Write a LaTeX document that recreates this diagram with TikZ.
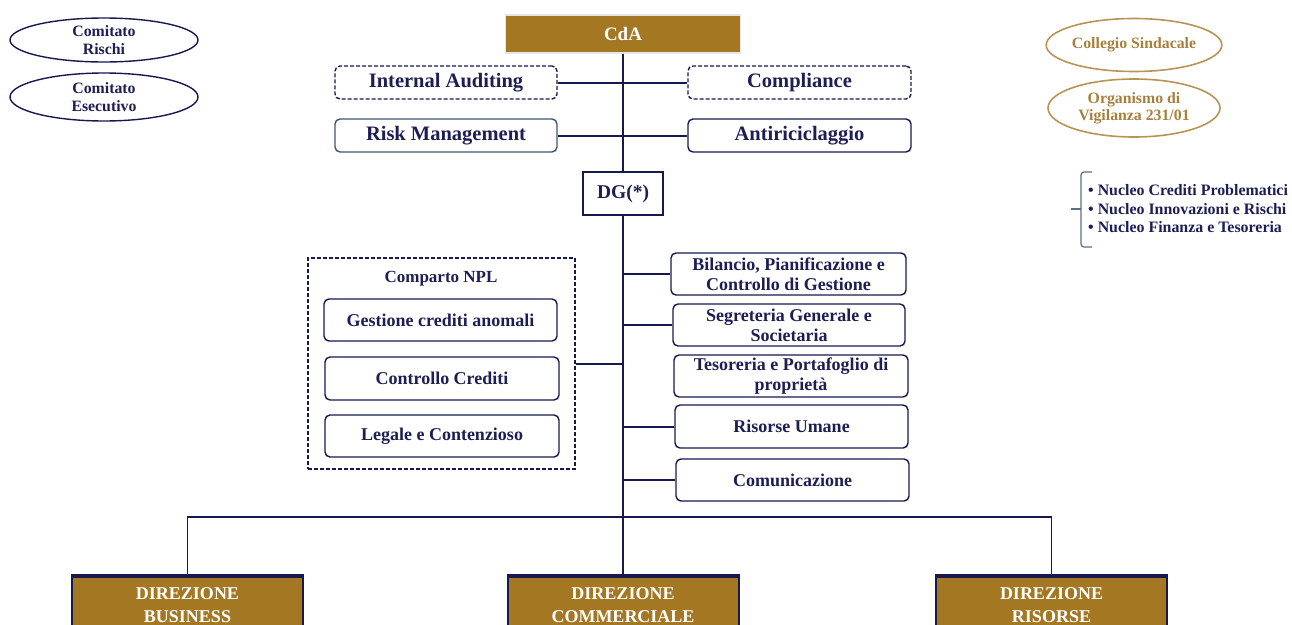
\documentclass[tikz,border=0pt]{standalone}
\usepackage{fontspec}
\setmainfont{Liberation Serif}
\usetikzlibrary{positioning,shapes.geometric,calc}

\definecolor{navy}{RGB}{22,24,80}
\definecolor{navytext}{RGB}{28,30,84}
\definecolor{steel}{RGB}{62,84,114}
\definecolor{ochre}{RGB}{164,119,35}
\definecolor{ochreline}{RGB}{184,148,84}
\definecolor{ochretext}{RGB}{166,128,60}

\newcommand{\fsz}[2]{\fontsize{#1}{#2}\selectfont\bfseries}

\begin{document}
\begin{tikzpicture}[
  x=1pt,y=-1pt,
  unit/.style={draw=navy,line width=1.4pt,rounded corners=5pt,align=center,
              text=navytext,inner sep=0pt},
  dashunit/.style={unit,dash pattern=on 4pt off 2pt},
  head/.style={fill=ochre,draw=gray!20,line width=1.5pt,text=white,inner sep=0pt,
              minimum width=235pt,minimum height=38pt,font=\fsz{19}{22}},
  dgbox/.style={draw=navy,line width=2.4pt,text=navytext,inner sep=0pt,
              minimum width=80pt,minimum height=43pt,font=\fsz{19.5}{22}},
  direz/.style={fill=ochre,draw=navy,line width=2pt,text=white,align=center,
              minimum width=231pt,minimum height=56pt,inner sep=0pt,font=\fsz{18}{23}},
  comit/.style={ellipse,draw=navy,line width=1.4pt,text=navytext,align=center,
              minimum width=188pt,inner sep=0pt,font=\fsz{15.8}{17.5}},
  organo/.style={ellipse,draw=ochreline,line width=1.6pt,text=ochretext,align=center,
              minimum width=172pt,inner sep=0pt,font=\fsz{15.8}{17}},
  link/.style={draw=navy,line width=2pt},
  busline/.style={draw=navy,line width=1.1pt}]
\useasboundingbox (0,0) rectangle (1292,624);
\clip (0,0) rectangle (1292,624);

% vertice
\node[head] (cda) at (623,34) {CdA};
\node[unit,dashunit,minimum width=222pt,minimum height=33pt,font=\fsz{20.5}{24}] (ia) at (446,82.5) {Internal Auditing};
\node[unit,dashunit,minimum width=223pt,minimum height=33pt,font=\fsz{20.5}{24}] (comp) at (799.5,82.5) {Compliance};
\node[unit,draw=steel,minimum width=222pt,minimum height=33pt,font=\fsz{20.5}{24}] (rm) at (446,135.5) {Risk Management};
\node[unit,minimum width=223pt,minimum height=33pt,font=\fsz{20.5}{24}] (anti) at (799.5,135.5) {Antiriciclaggio};
\node[dgbox] (dg) at (623,193.5) {DG(*)};

% comitati e organi
\node[comit,minimum height=44pt] (crischi) at (104,40) {Comitato\\Rischi};
\node[comit,minimum height=48pt] (cesec) at (104,97) {Comitato\\Esecutivo};
\node[organo,minimum height=53pt] (collegio) at (1134,45) {Collegio Sindacale};
\node[organo,minimum height=58pt] (odv) at (1134,108) {Organismo di\\Vigilanza 231/01};
\node[align=left,anchor=west,text=navytext,inner sep=0pt,font=\fsz{15.9}{18.5}] (nuclei) at (1088,209)
  {• Nucleo Crediti Problematici\\• Nucleo Innovazioni e Rischi\\• Nucleo Finanza e Tesoreria};
\draw[steel!85,line width=1.2pt,rounded corners=3pt] (1092,172) -- (1081,172) -- (1081,247) -- (1092,247);
\draw[steel!85,line width=1.2pt] (1081,209) -- (1071,209);

% staff DG
\node[unit,minimum width=235pt,minimum height=42pt,font=\fsz{18}{20}] (bil) at (788.5,274) {Bilancio, Pianificazione e\\Controllo di Gestione};
\node[unit,minimum width=232pt,minimum height=42pt,font=\fsz{18}{20}] (seg) at (789,325) {Segreteria Generale e\\Societaria};
\node[unit,minimum width=234pt,minimum height=42pt,font=\fsz{18}{20}] (tes) at (791,376) {Tesoreria e Portafoglio di\\proprietà};
\node[unit,minimum width=233pt,minimum height=43pt,font=\fsz{18}{20}] (rum) at (791.5,426.5) {Risorse Umane};
\node[unit,minimum width=233pt,minimum height=42pt,font=\fsz{18}{20}] (comu) at (792.5,480) {Comunicazione};

% comparto NPL
\node[draw=navy,line width=1.4pt,dash pattern=on 4pt off 2pt,minimum width=267pt,minimum height=211pt,inner sep=0pt] (npl) at (441.5,363.5) {};
\node[text=navytext,inner sep=0pt,font=\fsz{17}{20}] (npltitle) at (441,279) {Comparto NPL};
\node[unit,minimum width=233pt,minimum height=42pt,font=\fsz{18}{20}] (gest) at (440.5,320) {Gestione crediti anomali};
\node[unit,minimum width=234pt,minimum height=43pt,font=\fsz{18}{20}] (ctrl) at (442,378.5) {Controllo Crediti};
\node[unit,minimum width=234pt,minimum height=42pt,font=\fsz{18}{20}] (leg) at (442,436) {Legale e Contenzioso};

% direzioni
\node[direz] (dirb) at (187.5,605) {DIREZIONE\\BUSINESS};
\node[direz] (dirc) at (623,605) {DIREZIONE\\COMMERCIALE};
\node[direz] (dirr) at (1051.5,605) {DIREZIONE\\RISORSE};
\foreach \d in {dirb,dirc,dirr}
  \draw[navy,line width=3.5pt] (\d.north west) -- (\d.north east);
\coordinate (bus) at (623,517);

% collegamenti
\draw[link] (cda.south) -- (dg.north);
\draw[link] (ia.east) -- (comp.west);
\draw[link] (rm.east) -- (anti.west);
\draw[link] (dg.south) -- (bus);
\draw[link] (bil.west) -- (bil.west -| dg.south);
\draw[link] (seg.west) -- (seg.west -| dg.south);
\draw[link] (rum.west) -- (rum.west -| dg.south);
\draw[link] (comu.west) -- (comu.west -| dg.south);
\draw[link] (npl.east) -- (npl.east -| dg.south);
\draw[busline] (dirb.north) |- (bus) -| (dirr.north);
\draw[busline] (bus) -- (dirc.north);
\end{tikzpicture}
\end{document}
